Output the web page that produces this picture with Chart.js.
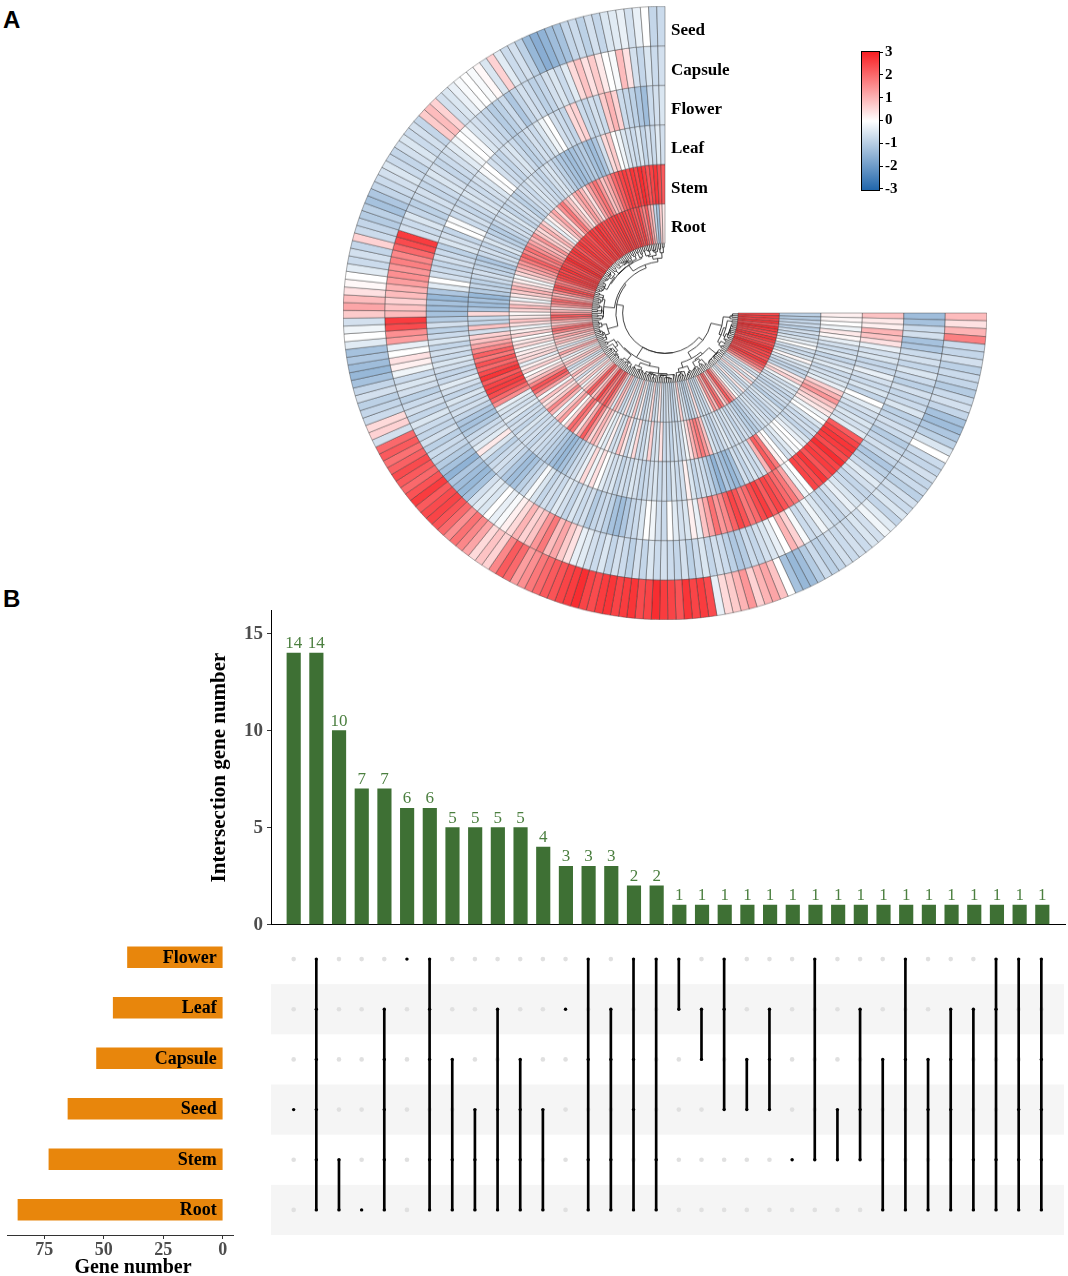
<!DOCTYPE html>
<html><head><meta charset="utf-8">
<script src="https://cdn.jsdelivr.net/npm/chart.js@4.4.1/dist/chart.umd.min.js"></script>
<style>
html,body{margin:0;padding:0;background:#fff;}
#root{position:relative;width:1068px;height:1276px;overflow:hidden;background:#fff;}
canvas{position:absolute;}
.lbl{position:absolute;font-family:"Liberation Serif","Times New Roman",serif;font-weight:bold;color:#000;white-space:nowrap;}
.panel{position:absolute;font-family:"Liberation Sans",Arial,sans-serif;font-weight:bold;font-size:24px;line-height:24px;color:#000;}
</style></head><body><div id="root">
<div class="panel" style="left:3px;top:8px;">A</div>
<div class="panel" style="left:3px;top:587px;">B</div>
<canvas id="heat" width="644" height="644" style="left:343px;top:-9px;width:644px;height:644px;transform:scaleY(0.953);transform-origin:50% 50%;"></canvas>
<div id="ringLabels"></div>
<div id="colorbar"></div>
<canvas id="bars" width="1068" height="345" style="left:0;top:595px;"></canvas>
<canvas id="matrix" width="1068" height="310" style="left:0;top:930px;"></canvas>
<canvas id="sizes" width="260" height="348" style="left:0;top:930px;"></canvas>
<div class="lbl" style="left:73px;top:1256px;font-size:20px;line-height:20px;width:120px;text-align:center;">Gene number</div>
</div>
<script>
// ---------------- Panel A data: z-scores per tissue (ring), genes clockwise from 3 o'clock ----------------
const tissues = ['Seed','Capsule','Flower','Leaf','Stem','Root']; // outer -> inner
const seedExpr = [
0.9,0.4,1.0,1.7,-0.7,-0.8,-0.6,-0.9,-0.7,-0.8,
-1.0,-0.7,-0.6,-0.8,-1.2,-1.3,-1.1,-0.9,-0.5,0.0,
-0.7,-0.8,-0.6,-0.8,-0.7,-0.9,-0.6,-0.7,-0.5,-0.8,
-0.4,-0.2,-0.6,-0.5,-0.7,-0.6,-0.7,-0.6,-0.8,-0.9,
-0.7,-1.0,-1.3,-1.4,-1.2,0.0,0.8,1.2,1.0,0.6,
1.4,1.0,0.7,0.5,-0.3,2.4,2.6,2.5,2.7,2.3,
2.5,2.6,2.8,2.5,2.4,2.7,2.6,2.5,2.7,2.6,
2.4,2.5,2.8,2.6,2.5,2.3,2.2,2.0,1.8,1.5,
1.3,2.0,2.2,1.6,0.6,0.8,0.5,1.2,1.6,1.9,
1.5,2.0,2.3,2.5,2.4,2.2,2.6,2.3,2.0,2.2,
2.4,2.1,1.9,2.2,2.0,-0.6,0.6,0.5,-0.7,-0.8,
-0.9,-0.6,-0.8,-1.2,-1.4,-1.3,-1.1,-1.2,-0.4,0.0,
-0.2,-0.6,0.7,1.2,0.9,0.4,0.1,0.0,-0.4,-0.7,
-0.6,-0.8,0.6,-0.7,-0.8,-1.0,-0.9,-1.2,-1.1,-0.8,
-0.7,-0.6,-0.5,-0.7,-0.8,-0.6,-0.5,-0.7,-0.6,-0.8,
0.7,0.9,0.6,-0.6,-0.5,-0.3,-0.1,0.0,-0.1,0.1,
-0.5,0.6,-0.4,-0.7,-0.6,-0.9,-1.4,-1.6,-1.5,-1.3,
-1.2,-0.8,-0.7,-0.9,-0.6,-0.8,-0.5,-0.4,-0.3,-0.6,
-0.3,0.0,-0.8,-0.7];
const capsuleExpr = [
-1.3,-1.2,-0.7,-0.6,-1.2,-1.1,-0.7,-0.6,-0.8,-0.5,
-0.7,-0.9,-0.6,-0.8,-0.7,-0.5,-0.9,-0.8,-0.6,-0.7,
-1.0,-0.8,-0.6,-0.8,-1.1,-0.9,-0.7,-0.4,-0.6,-0.8,
-0.7,-0.5,-0.3,-0.6,-0.8,-0.7,-0.5,-0.2,-0.6,-0.7,
-0.1,0.6,1.0,0.0,-0.3,-0.5,-0.6,-0.8,-0.7,-1.0,
-1.1,-0.9,-0.7,-0.6,-0.8,-0.5,-0.7,-0.9,-0.6,-0.8,
-0.7,-0.6,-0.7,-0.5,-0.8,-0.6,-0.9,-0.7,-0.6,-0.8,
-0.5,-0.7,-0.6,-0.4,-0.3,0.4,0.7,1.2,0.9,1.8,
1.4,0.8,0.6,1.0,0.5,0.2,-0.1,-0.3,0.0,-0.5,
-0.4,-0.6,-1.2,-1.4,-1.3,-1.1,-1.5,-1.2,-1.0,-0.8,
-0.7,-0.9,-0.6,-0.8,-0.7,-0.5,-0.8,-0.6,-0.7,-0.9,
-0.6,-0.5,-0.7,-0.2,0.2,0.4,0.0,-0.3,1.3,1.5,
2.4,2.6,0.9,0.8,0.6,0.9,1.0,1.3,1.5,1.4,
1.7,1.6,2.0,2.4,2.6,-0.6,-0.7,-0.5,-0.8,-0.9,
-0.7,-0.6,-0.8,-0.7,-0.5,-0.6,-0.8,-0.7,-0.6,-0.4,
-0.2,0.0,-0.1,-0.5,-0.6,-0.7,-0.8,-1.0,-0.9,-0.7,
-1.1,-0.8,-0.6,-0.7,-0.9,-0.8,-0.6,-0.5,-0.7,-0.4,
0.5,0.8,0.4,0.7,0.3,0.0,-0.1,0.9,0.4,-0.6,
-0.8,-0.5,-0.7,-0.6];
const flowerExpr = [
0.8,0.3,0.2,1.0,0.8,0.4,-0.3,
-0.6,-0.5,-0.8,-0.7,-0.3,-0.6,-0.7,-0.5,-0.8,0.0,-0.4,-0.6,-0.7,-0.5,-0.6,-0.4,
2.2,2.5,2.7,2.6,2.4,2.8,2.5,2.6,2.3,2.7,2.4,2.5,
0.0,-0.2,
1.2,1.8,2.0,2.3,2.5,2.2,2.6,2.4,2.0,1.8,2.3,2.5,2.1,1.6,1.4,1.9,1.2,0.8,
-0.3,0.2,-0.5,-0.6,-0.4,0.0,-0.7,
-0.6,-0.2,0.0,-0.5,-0.7,-0.8,-1.1,-1.3,-1.2,-0.9,-0.7,-0.8,-1.0,-0.6,-0.7,-0.5,-0.8,-0.6,-0.4,-0.7,
-0.6,-0.8,-0.5,-0.1,-0.7,-0.9,-1.2,-1.3,-1.1,-0.8,-0.6,-0.7,-0.9,-0.5,0.3,-0.4,-0.6,
-0.7,-1.0,-1.2,-1.1,-0.8,-0.6,-0.7,-0.5,-0.8,-0.6,-0.4,-0.7,-0.8,-0.6,-0.5,-0.7,-0.6,-0.8,-0.5,-0.7,-0.9,-0.6,-1.0,-1.2,
-1.3,-1.2,-1.4,-1.1,-0.4,0.0,-0.6,
-0.7,-0.8,-0.6,-0.7,-0.9,-0.5,-0.6,-0.8,0.0,-0.1,-0.7,-0.6,-0.8,-0.7,-0.5,-0.6,-0.7,
-0.6,-0.5,-0.1,0.0,-0.6,-0.7,-0.8,-0.6,-0.5,-0.7,-0.9,-0.8,-0.6,-0.7,-0.5,-0.2,0.0,
-0.6,-0.7,-0.8,0.5,0.6,-0.7,-0.8,-0.6,-0.7,0.7,1.0,0.6,-0.7,-0.8,-0.9,-1.1,-1.3,-0.7,-0.6,-0.5];
const leafExpr = [
0.2,0.1,0.0,-0.2,0.3,0.1,-0.3,
-0.6,-0.7,-0.5,-0.8,-0.6,-0.4,-0.7,-0.6,-0.5,-0.3,
0.6,1.0,1.4,0.8,0.5,0.3,
-0.2,0.0,-0.5,-0.7,-0.6,-0.8,-0.5,-0.3,0.0,-0.1,-0.4,-0.6,
0.0,0.2,1.8,2.2,1.0,
-0.6,-0.7,-0.5,-0.8,-0.6,
-1.2,-1.4,-1.3,-1.1,-1.5,-1.2,-0.9,
-0.7,-0.6,-0.8,-0.5,0.2,-0.6,-0.7,-0.5,-0.8,-0.6,-0.7,-0.5,-0.6,
-0.7,-0.8,-0.6,-0.5,-0.7,-0.6,-0.8,-0.5,-0.6,-0.4,0.0,0.4,-0.2,0.5,-0.3,-0.6,-0.7,
-1.0,-1.2,-1.4,-1.3,-1.1,-0.9,-0.8,-0.7,-0.6,-0.8,
-0.6,-0.7,-0.5,-0.8,-0.6,-0.7,-0.4,-0.6,-0.5,-0.3,
1.5,2.0,2.4,2.6,2.5,2.2,2.7,2.4,2.0,2.3,1.8,2.1,1.6,1.2,0.8,
0.6,-0.6,0.8,-0.8,-0.7,0.5,
-1.1,-1.3,-1.2,-1.4,-1.0,-0.8,-0.9,
-0.7,-0.6,-0.8,-0.9,-1.1,-0.7,-0.6,-0.8,-0.5,-0.7,-0.9,-1.0,-0.8,-0.6,-0.7,-0.5,-0.8,-0.7,-0.6,-0.9,-0.8,-0.6,-0.7,-0.5,
-0.6,-0.7,-0.8,-0.6,-0.5,-0.7,-0.9,-1.1,-1.2,-1.3,-1.2,-1.1,-1.0,
-1.2,-1.3,-1.1,-0.6,0.5,0.7,0.0,-0.2,-0.5,-0.6,-0.7,-0.5,-0.8,-0.6,-0.7,-0.4,-0.6];
const stemExpr = [
-0.9,-1.0,-0.8,-0.7,-0.9,-0.6,-0.7,
-0.5,-0.3,0.0,-0.6,-0.7,-0.5,0.1,-0.4,-0.6,-0.8,
-0.7,0.3,0.6,-0.2,-0.6,-0.5,-0.7,
-0.8,-0.6,-0.7,-0.9,-0.5,-0.6,-0.8,-0.7,-0.6,-0.5,-0.7,-0.8,-1.0,-0.9,-0.7,-0.6,-0.8,-0.5,-0.6,-0.7,-0.4,-0.6,-0.8,-0.7,-0.5,
0.8,1.4,1.8,1.5,1.0,0.4,-0.2,
-0.6,-0.7,-0.5,-0.8,-0.6,-0.7,0.4,-0.5,-0.6,0.6,-0.4,-0.7,
-0.6,0.5,-0.3,-0.7,0.3,0.8,-0.5,-0.6,0.2,-0.4,-0.2,0.6,1.0,0.5,
1.5,2.2,1.2,0.4,1.8,2.0,0.6,0.0,1.3,0.8,-0.2,1.0,1.6,0.7,
0.3,0.8,-0.1,1.2,2.0,2.3,1.6,0.9,0.4,0.0,0.6,0.2,-0.3,0.5,
0.4,0.2,-0.1,0.5,0.3,0.0,0.6,0.2,-0.2,0.4,0.8,0.3,0.1,
0.5,0.9,0.4,-0.2,0.3,0.7,1.0,0.6,0.2,-0.1,0.5,0.8,1.2,1.4,
1.8,2.1,1.6,1.9,1.5,1.2,0.9,1.4,0.7,0.5,
1.0,0.6,-0.3,0.2,0.8,1.2,0.5,1.5,1.8,1.1,0.7,0.3,1.0,1.3,0.9,0.4,1.2,1.6,1.9,1.4,0.8,1.1,1.5,2.0,
2.2,2.5,2.6,2.4,2.7,2.5,2.8,2.6,2.3,2.5,2.7,2.4,2.2];
const rootExpr = [
2.4,2.6,2.5,2.7,2.3,2.8,2.6,2.5,2.4,2.7,2.6,2.3,2.5,2.8,2.6,2.4,2.5,2.2,2.6,2.4,2.0,1.6,1.0,
-0.4,-0.6,0.2,-0.5,0.5,-0.3,-0.7,-0.5,0.3,-0.6,-0.4,0.0,
0.8,1.6,2.2,1.2,0.5,1.8,2.0,0.9,1.4,0.3,
-0.6,-0.7,-0.5,-0.8,0.4,-0.6,-0.7,-0.9,-0.6,-0.5,0.6,-0.4,-0.7,-0.8,-0.6,-0.5,-0.7,
-0.6,0.3,-0.5,-0.7,0.5,-0.4,-0.6,-0.8,0.2,-0.5,0.7,-0.3,-0.6,0.4,-0.5,-0.7,0.6,1.0,-0.4,0.8,
1.8,2.3,1.5,2.0,2.5,1.2,0.6,1.9,2.2,1.0,
0.5,-0.2,0.7,0.2,-0.6,0.4,1.0,0.3,-0.4,-0.6,0.5,0.8,0.2,-0.3,0.6,1.2,0.4,-0.5,0.3,0.9,0.6,
1.2,0.8,1.6,2.0,1.4,0.6,1.0,1.8,2.2,1.5,0.9,0.4,1.2,1.7,2.0,1.3,0.8,1.5,2.1,2.4,1.9,1.6,2.3,2.5,
2.6,2.4,2.7,2.5,2.3,2.6,2.8,2.5,2.4,2.7,2.6,2.2,2.5,2.7,2.4,2.6,2.5,2.3,2.7,2.6,2.4,2.8,2.5,2.6,2.3,2.5,2.4,
2.6,2.5,2.7,2.4,2.6,2.5,2.3,2.6,2.4,2.2,2.5,2.0,1.6,2.1,1.2,0.8,
-0.8,-1.2,0.6,0.3];
const colorTicks = [3,2,1,0,-1,-2,-3];

// ---------------- Panel B data ----------------
const setNames = ['Flower','Leaf','Capsule','Seed','Stem','Root'];
const setSizes = [40,46,53,65,73,86];
const intersectionCounts = [14,14,10,7,7,6,6,5,5,5,5,4,3,3,3,2,2,1,1,1,1,1,1,1,1,1,1,1,1,1,1,1,1,1];
const intersectionMembers = [
 ['Seed'], ['Flower','Leaf','Capsule','Seed','Stem','Root'], ['Stem','Root'], ['Root'],
 ['Leaf','Capsule','Seed','Stem','Root'], ['Flower'], ['Flower','Leaf','Capsule','Stem','Root'],
 ['Capsule','Stem','Root'], ['Seed','Stem','Root'], ['Leaf','Seed','Stem','Root'], ['Capsule','Seed','Stem','Root'],
 ['Seed','Root'], ['Leaf'], ['Flower','Capsule','Stem','Root'], ['Leaf','Capsule','Stem','Root'],
 ['Flower','Capsule','Seed','Root'], ['Flower','Stem','Root'], ['Flower','Leaf'], ['Leaf','Capsule'],
 ['Flower','Leaf','Seed'], ['Capsule','Seed'], ['Leaf','Capsule','Seed'], ['Stem'], ['Flower','Stem'],
 ['Seed','Stem'], ['Leaf','Seed','Stem'], ['Capsule','Root'], ['Flower','Capsule','Root'],
 ['Capsule','Seed','Root'], ['Leaf','Capsule','Seed','Root'], ['Leaf','Stem','Root'],
 ['Flower','Leaf','Stem','Root'], ['Flower','Seed','Stem','Root'], ['Flower','Capsule','Seed','Stem','Root']];
const countTicks = [0,5,10,15];
const sizeTicks = [0,25,50,75];

// ---------------- helpers ----------------
const SERIF = '"Liberation Serif","Times New Roman",serif';
const HI = [248,30,34], LO = [33,102,172];
function heatColor(v){
  const t = Math.max(-1, Math.min(1, v/3));
  const c = t >= 0 ? HI : LO, a = Math.abs(t);
  return 'rgb(' + c.map(ch => Math.round(255 + (ch-255)*a)).join(',') + ')';
}
const ringArrays = [seedExpr, capsuleExpr, flowerExpr, leafExpr, stemExpr, rootExpr];

// adjacency-constrained Ward clustering (keeps the ring order) -> dendrogram
function buildTree(vecs){
  let cl = vecs.map((v,i)=>({n:1, c:v.slice(), h:0, leaf:i}));
  while(cl.length > 1){
    let best = 0, bd = Infinity;
    for(let i=0;i<cl.length-1;i++){
      const a = cl[i], b = cl[i+1];
      let d = 0; for(let j=0;j<a.c.length;j++){ const t=a.c[j]-b.c[j]; d+=t*t; }
      d = Math.sqrt(d*2*a.n*b.n/(a.n+b.n));
      if(d < bd){ bd = d; best = i; }
    }
    const a = cl[best], b = cl[best+1], n = a.n+b.n;
    cl.splice(best, 2, {n, c:a.c.map((x,j)=>(x*a.n+b.c[j]*b.n)/n), h:Math.max(bd,a.h,b.h), left:a, right:b});
  }
  return cl[0];
}

const dendroPlugin = {
  id:'dendro',
  afterDatasetsDraw(chart){
    const arcs = chart.getDatasetMeta(ringArrays.length-1).data;
    if(!arcs.length) return;
    const cx = arcs[0].x, cy = arcs[0].y, r0 = arcs[0].innerRadius, rRoot = r0*0.58;
    const vecs = rootExpr.map((_,k)=>ringArrays.map(a=>a[k]));
    const tree = buildTree(vecs), hmax = tree.h || 1;
    const rad = h => r0 - (r0-rRoot)*Math.pow(h/hmax, 0.5);
    const ctx = chart.ctx;
    ctx.save(); ctx.strokeStyle = '#111'; ctx.lineWidth = 0.8;
    function draw(node){
      if(node.leaf !== undefined){ const a = arcs[node.leaf]; return {ang:(a.startAngle+a.endAngle)/2, r:r0}; }
      const A = draw(node.left), B = draw(node.right), r = rad(node.h);
      ctx.beginPath();
      [A,B].forEach(p=>{ ctx.moveTo(cx+p.r*Math.cos(p.ang), cy+p.r*Math.sin(p.ang)); ctx.lineTo(cx+r*Math.cos(p.ang), cy+r*Math.sin(p.ang)); });
      ctx.moveTo(cx+r*Math.cos(A.ang), cy+r*Math.sin(A.ang));
      ctx.arc(cx, cy, r, A.ang, B.ang);
      ctx.stroke();
      return {ang:(A.ang+B.ang)/2, r};
    }
    draw(tree);
    ctx.restore();
  }
};

// ---------------- Panel A: circular heatmap ----------------
new Chart(document.getElementById('heat'), {
  type:'doughnut',
  data:{
    labels: rootExpr.map((_,k)=>'Gene '+(k+1)),
    datasets: ringArrays.map((arr,i)=>({
      label: tissues[i], data: arr.map(()=>1), backgroundColor: arr.map(heatColor),
      borderColor:'rgba(45,45,45,0.8)', borderWidth:0.5, hoverOffset:0
    }))
  },
  options:{
    responsive:false, animation:false, rotation:90, circumference:270, cutout:'22.7%',
    layout:{padding:0}, events:[],
    plugins:{legend:{display:false}, tooltip:{enabled:false}}
  },
  plugins:[dendroPlugin]
});

// ring labels + colour bar legend
(function(){
  const host = document.getElementById('ringLabels');
  const ys = [30,70,109,148,188,227];
  tissues.forEach((t,i)=>{
    const d = document.createElement('div');
    d.className = 'lbl'; d.textContent = t;
    d.style.cssText = 'left:671px;top:'+(ys[i]-10)+'px;font-size:17px;line-height:20px;';
    host.appendChild(d);
  });
  const cb = document.getElementById('colorbar');
  const bar = document.createElement('div');
  const stops = [3,0,-3].map(v=>heatColor(v));
  bar.style.cssText = 'position:absolute;left:861px;top:51px;width:17px;height:138px;border:1px solid #000;background:linear-gradient(to bottom,'+stops[0]+','+stops[1]+','+stops[2]+');';
  cb.appendChild(bar);
  colorTicks.forEach((v,i)=>{
    const y = 52 + i*22.8;
    const tk = document.createElement('div');
    tk.style.cssText = 'position:absolute;left:879px;top:'+(y-0.5)+'px;width:4px;height:1px;background:#000;';
    cb.appendChild(tk);
    const l = document.createElement('div');
    l.className = 'lbl'; l.textContent = String(v);
    l.style.cssText = 'left:885px;top:'+(y-9)+'px;font-size:15px;line-height:17px;';
    cb.appendChild(l);
  });
})();

// ---------------- Panel B: intersection bars ----------------
const barLabelPlugin = {
  id:'barLabels',
  afterDatasetsDraw(chart){
    const ctx = chart.ctx, meta = chart.getDatasetMeta(0);
    ctx.save(); ctx.font = '17px '+SERIF; ctx.fillStyle = '#4b7f3f';
    ctx.textAlign = 'center'; ctx.textBaseline = 'bottom';
    meta.data.forEach((el,i)=>ctx.fillText(String(intersectionCounts[i]), el.x, el.y-1));
    ctx.restore();
  }
};
new Chart(document.getElementById('bars'), {
  type:'bar',
  data:{datasets:[{data:intersectionCounts.map((v,i)=>({x:i,y:v})), backgroundColor:'#3e7034', barThickness:13.5}]},
  options:{
    responsive:false, animation:false, events:[],
    layout:{padding:{left:209,right:3,top:10,bottom:13}},
    scales:{
      x:{type:'linear', offset:false, min:-1, max:34, ticks:{display:false}, grid:{display:false},
         border:{display:true,color:'#000',width:1}, afterFit(s){ s.height = 0; }},
      y:{type:'linear', min:0, max:16.2,
         afterBuildTicks(s){ s.ticks = countTicks.map(v=>({value:v})); },
         ticks:{font:{family:SERIF,weight:'bold',size:19}, color:'#4d4d4d', padding:4},
         grid:{display:true, drawOnChartArea:false, drawTicks:true, tickLength:4, color:'#333'},
         border:{display:true,color:'#000',width:1},
         title:{display:true, text:'Intersection gene number', font:{family:SERIF,weight:'bold',size:21,lineHeight:1}, color:'#000', padding:0},
         afterFit(s){ s.width = 62; }}
    },
    plugins:{legend:{display:false}, tooltip:{enabled:false}}
  },
  plugins:[barLabelPlugin]
});

// ---------------- Panel B: membership matrix ----------------
const greyPts = [], blackPts = [], linkSpans = [];
intersectionMembers.forEach((mem,i)=>{
  const rows = mem.map(s=>setNames.indexOf(s));
  setNames.forEach((s,r)=>{ (rows.includes(r) ? blackPts : greyPts).push({x:i, y:r}); });
  linkSpans.push({x:i, y:[Math.min(...rows), Math.max(...rows)]});
});
const bandPlugin = {
  id:'bands',
  beforeDatasetsDraw(chart){
    const {ctx, chartArea:a, scales:{y}} = chart;
    ctx.save(); ctx.fillStyle = '#f5f5f5';
    setNames.forEach((s,r)=>{
      if(r % 2 === 1){
        const y1 = y.getPixelForValue(r-0.5), y2 = y.getPixelForValue(r+0.5);
        ctx.fillRect(a.left, Math.min(y1,y2), a.right-a.left, Math.abs(y2-y1));
      }
    });
    ctx.restore();
  }
};
new Chart(document.getElementById('matrix'), {
  type:'bar',
  data:{datasets:[
    {type:'scatter', data:blackPts, pointRadius:1.7, pointBackgroundColor:'#000', pointBorderWidth:0, order:1},
    {type:'bar', data:linkSpans, backgroundColor:'#000', barThickness:2, order:2},
    {type:'scatter', data:greyPts, pointRadius:2.3, pointBackgroundColor:'#e0e0e0', pointBorderWidth:0, order:3}
  ]},
  options:{
    responsive:false, animation:false, events:[],
    layout:{padding:{left:271,right:3,top:2,bottom:5}},
    scales:{
      x:{type:'linear', offset:false, min:-1, max:34, display:false},
      y:{type:'linear', offset:false, min:-0.5, max:5.5, reverse:true, display:false}
    },
    plugins:{legend:{display:false}, tooltip:{enabled:false}}
  },
  plugins:[bandPlugin]
});

// ---------------- Panel B: set sizes ----------------
const setLabelPlugin = {
  id:'setLabels',
  afterDatasetsDraw(chart){
    const ctx = chart.ctx, meta = chart.getDatasetMeta(0), x0 = chart.scales.x.getPixelForValue(0);
    ctx.save(); ctx.font = 'bold 18px '+SERIF; ctx.fillStyle = '#000';
    ctx.textAlign = 'right'; ctx.textBaseline = 'middle';
    meta.data.forEach((el,i)=>ctx.fillText(setNames[i], x0-6, el.y+1));
    ctx.restore();
  }
};
new Chart(document.getElementById('sizes'), {
  type:'bar',
  data:{datasets:[{data:setSizes.map((v,i)=>({x:v,y:i})), backgroundColor:'#e8860c', barThickness:21}]},
  options:{
    indexAxis:'y', responsive:false, animation:false, events:[],
    layout:{padding:{left:7,right:27,top:2,bottom:0}},
    scales:{
      y:{type:'linear', offset:false, min:-0.5, max:5.5, reverse:true, display:false},
      x:{type:'linear', offset:false, min:-4.3, max:90.6, reverse:true,
         afterBuildTicks(s){ s.ticks = sizeTicks.map(v=>({value:v})); },
         ticks:{font:{family:SERIF,weight:'bold',size:18}, color:'#4d4d4d', padding:1},
         grid:{display:true, drawOnChartArea:false, drawTicks:true, tickLength:4, color:'#333'},
         border:{display:true,color:'#333',width:1},
         afterFit(s){ s.height = 43; }}
    },
    plugins:{legend:{display:false}, tooltip:{enabled:false}}
  },
  plugins:[setLabelPlugin]
});
</script></body></html>
